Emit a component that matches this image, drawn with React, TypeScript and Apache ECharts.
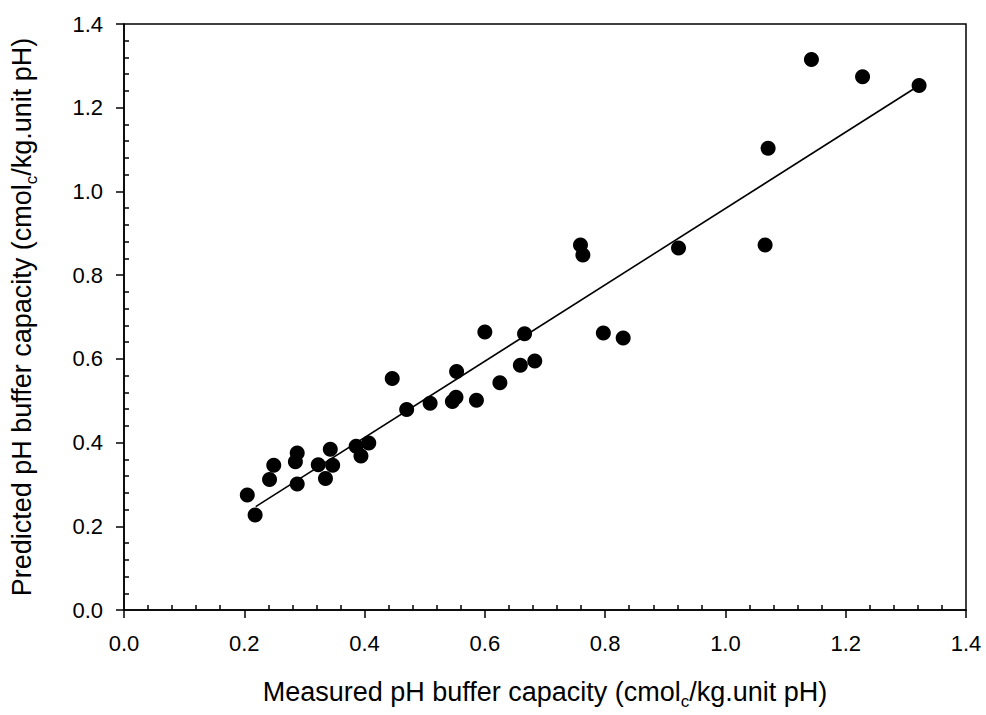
import React, { useEffect, useRef } from "react";
import * as echarts from "echarts";

const measured = [
  0.205, 0.218, 0.242, 0.249, 0.288, 0.285, 0.288, 0.323, 0.335, 0.343, 0.347, 0.386, 0.394, 0.407,
  0.446, 0.47, 0.509, 0.546, 0.552, 0.553, 0.586, 0.6, 0.625, 0.659, 0.666, 0.683,
  0.759, 0.763, 0.797, 0.83, 0.922, 1.066, 1.071, 1.143, 1.228, 1.322,
];
const predicted = [
  0.275, 0.227, 0.312, 0.346, 0.375, 0.354, 0.301, 0.347, 0.314, 0.384, 0.346, 0.391, 0.368, 0.399,
  0.553, 0.479, 0.494, 0.498, 0.508, 0.57, 0.501, 0.664, 0.543, 0.585, 0.66, 0.595,
  0.872, 0.848, 0.662, 0.65, 0.865, 0.872, 1.103, 1.315, 1.274, 1.253,
];
const fitX = [0.219, 1.322];
const fitY = [0.247, 1.253];
const xTitle = ["Measured pH buffer capacity (cmol", "c", "/kg.unit pH)"];
const yTitle = ["Predicted pH buffer capacity (cmol", "c", "/kg.unit pH)"];

const FONT = "'Liberation Sans', Arial, Helvetica, sans-serif";

export default function App() {
  const ref = useRef<HTMLDivElement>(null);
  useEffect(() => {
    if (!ref.current) return;
    const chart = echarts.init(ref.current, undefined, { renderer: "svg" });
    const rich = {
      m: { fontSize: 27, fontFamily: FONT, color: "#000", verticalAlign: "top" },
      s: { fontSize: 17, fontFamily: FONT, color: "#000", verticalAlign: "top", padding: [15, 0, 0, 0] },
    };
    const axisCommon = {
      type: "value",
      min: 0,
      max: 1.4,
      interval: 0.2,
      nameLocation: "middle",
      axisLine: { show: true, onZero: false, lineStyle: { color: "#000", width: 1.5 } },
      axisTick: { show: true, length: 8, lineStyle: { color: "#000", width: 1.5 } },
      minorTick: { show: true, splitNumber: 5, length: -5, lineStyle: { color: "#000", width: 1.5 } },
      splitLine: { show: false },
      minorSplitLine: { show: false },
      axisLabel: {
        fontSize: 22,
        fontFamily: FONT,
        color: "#000",
        formatter: (v: number) => v.toFixed(1),
      },
    };
    chart.setOption({
      animation: false,
      backgroundColor: "#fff",
      grid: {
        left: 123,
        right: 20,
        top: 24,
        bottom: 101,
        show: true,
        borderColor: "#000",
        borderWidth: 1.5,
        containLabel: false,
      },
      xAxis: {
        ...axisCommon,
        name: `{m|${xTitle[0]}}{s|${xTitle[1]}}{m|${xTitle[2]}}`,
        nameGap: 68,
        nameTextStyle: { rich },
        axisLabel: { ...axisCommon.axisLabel, margin: 22 },
      },
      yAxis: {
        ...axisCommon,
        name: `{m|${yTitle[0]}}{s|${yTitle[1]}}{m|${yTitle[2]}}`,
        nameGap: 84,
        nameRotate: 90,
        nameTextStyle: { rich },
        axisLabel: { ...axisCommon.axisLabel, margin: 21 },
      },
      series: [
        {
          type: "line",
          data: fitX.map((x, i) => [x, fitY[i]]),
          symbol: "none",
          lineStyle: { color: "#000", width: 1.6 },
          z: 1,
        },
        {
          type: "scatter",
          data: measured.map((x, i) => [x, predicted[i]]),
          symbol: "circle",
          symbolSize: 15,
          itemStyle: { color: "#000", opacity: 1 },
          z: 2,
        },
      ],
    });
    return () => chart.dispose();
  }, []);
  return <div ref={ref} style={{ position: "fixed", left: 0, top: 0, width: 986, height: 715 }} />;
}
